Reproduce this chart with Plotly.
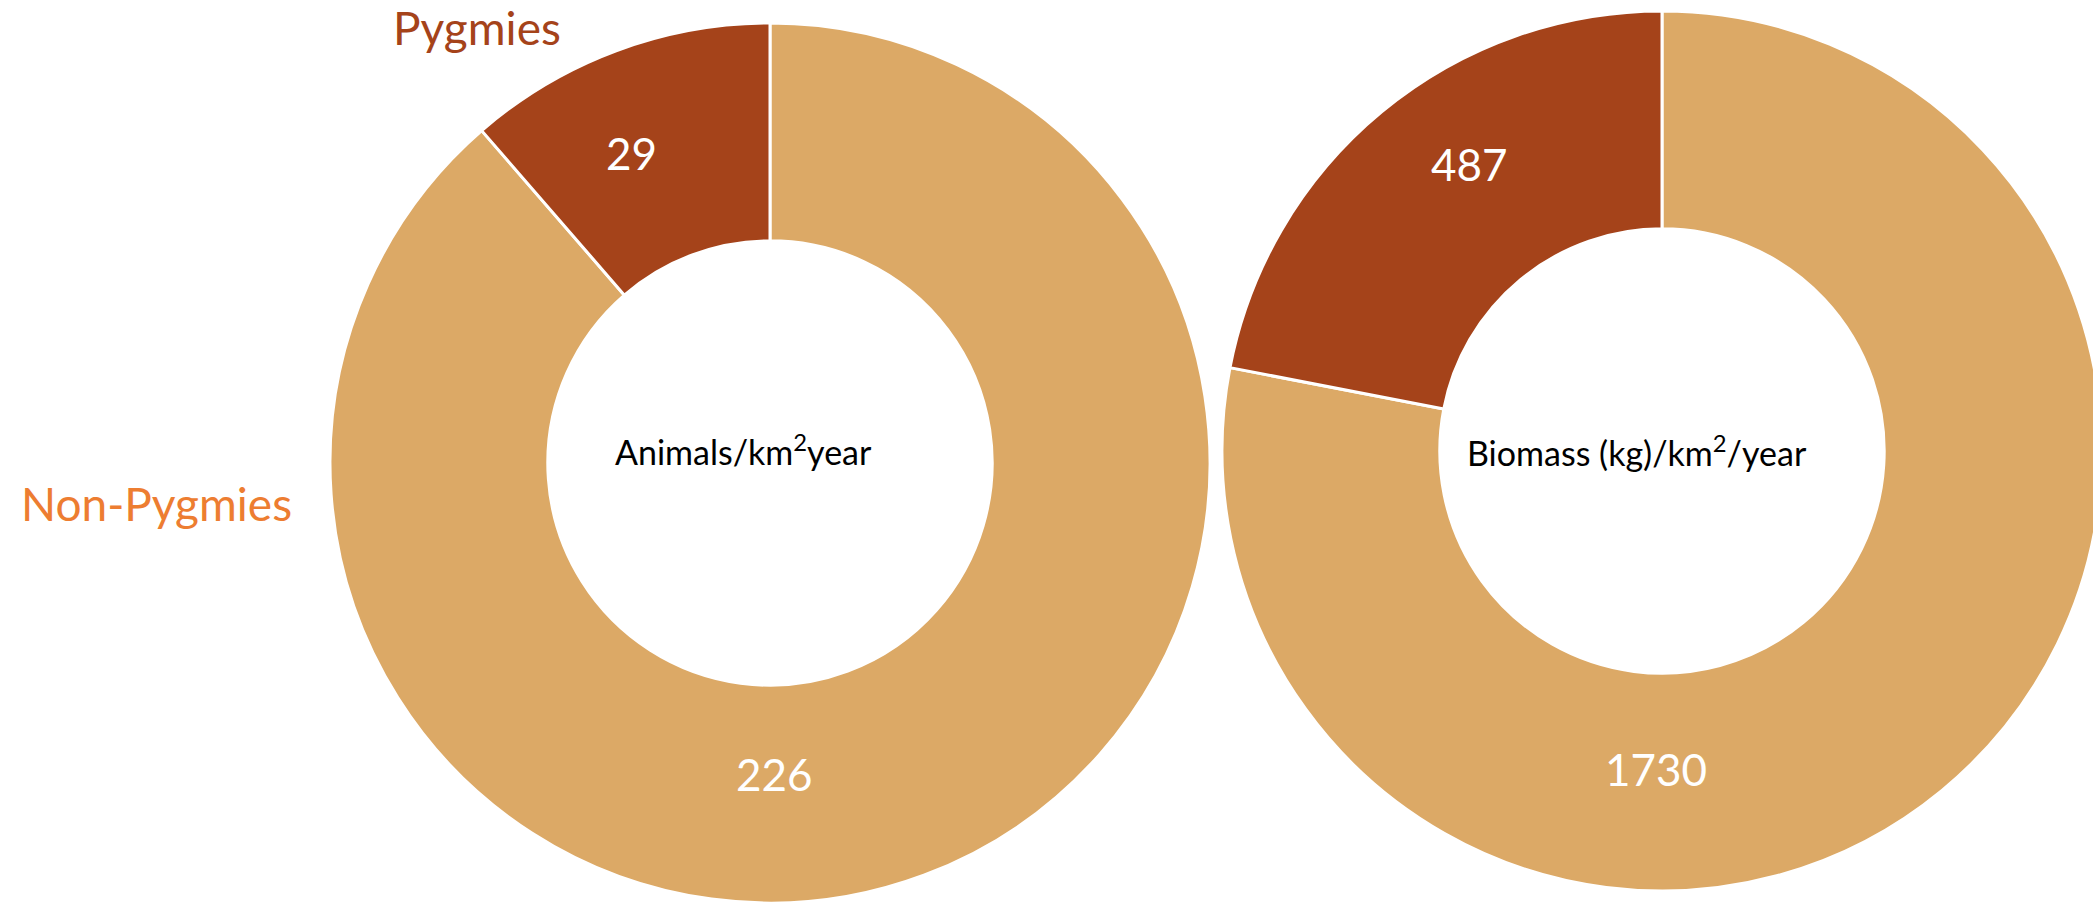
import plotly.graph_objects as go

# Hunting yield per km² per year, non-Pygmies vs Pygmies
groups = ["Non-Pygmies", "Pygmies"]
animals = [226, 29]
biomass = [1730, 487]
center_titles = ["Animals/km<sup>2</sup>year", "Biomass (kg)/km<sup>2</sup>/year"]

slice_colors = ["#DCA966", "#A5431A"]
label_colors = ["#ED7D31", "#A5431A"]

W, H = 2110, 905
FONT = "Lato, Open Sans, sans-serif"


def px_x(v):
    return v / W


def px_y(v):
    return 1 - v / H


fig = go.Figure()

ring_domains = [
    # left ring: centre (770, 463), radius 440 px
    dict(x=[px_x(330), px_x(1210)], y=[px_y(903), px_y(23)]),
    # right ring: centre (1662, 451), radius 440 px
    dict(x=[px_x(1222), px_x(2102)], y=[px_y(891), px_y(11)]),
]

for vals, dom in zip([animals, biomass], ring_domains):
    fig.add_trace(go.Pie(
        labels=groups, values=vals, sort=False, direction="clockwise",
        rotation=0, hole=0.505, textinfo="none", hoverinfo="label+value",
        marker=dict(colors=slice_colors, line=dict(color="white", width=3)),
        domain=dom, showlegend=False,
    ))

annotations = []

# value labels
value_pos = [
    (animals[1], 631, 153), (animals[0], 774, 774),
    (biomass[1], 1469, 164), (biomass[0], 1656, 769),
]
for val, x, y in value_pos:
    annotations.append(dict(
        x=px_x(x), y=px_y(y), xref="paper", yref="paper", text=str(val),
        showarrow=False, font=dict(family=FONT, size=44, color="white"),
        xanchor="center", yanchor="middle",
    ))

# centre titles
for txt, x, y in [(center_titles[0], 743, 450), (center_titles[1], 1637, 451)]:
    annotations.append(dict(
        x=px_x(x), y=px_y(y), xref="paper", yref="paper", text=txt,
        showarrow=False, font=dict(family=FONT, size=34, color="black"),
        xanchor="center", yanchor="middle",
    ))

# group labels
for txt, col, x, y in [(groups[1], label_colors[1], 477, 28),
                       (groups[0], label_colors[0], 156, 503)]:
    annotations.append(dict(
        x=px_x(x), y=px_y(y), xref="paper", yref="paper", text=txt,
        showarrow=False, font=dict(family=FONT, size=46, color=col),
        xanchor="center", yanchor="middle",
    ))

fig.update_layout(
    width=W, height=H,
    margin=dict(l=0, r=0, t=0, b=0),
    paper_bgcolor="white", plot_bgcolor="white",
    annotations=annotations,
)

fig.write_html(
    "out.html",
    config={"displayModeBar": False},
    post_script="document.documentElement.style.overflow='hidden';"
                "document.body.style.overflow='hidden';"
                "document.body.style.margin='0';",
)
